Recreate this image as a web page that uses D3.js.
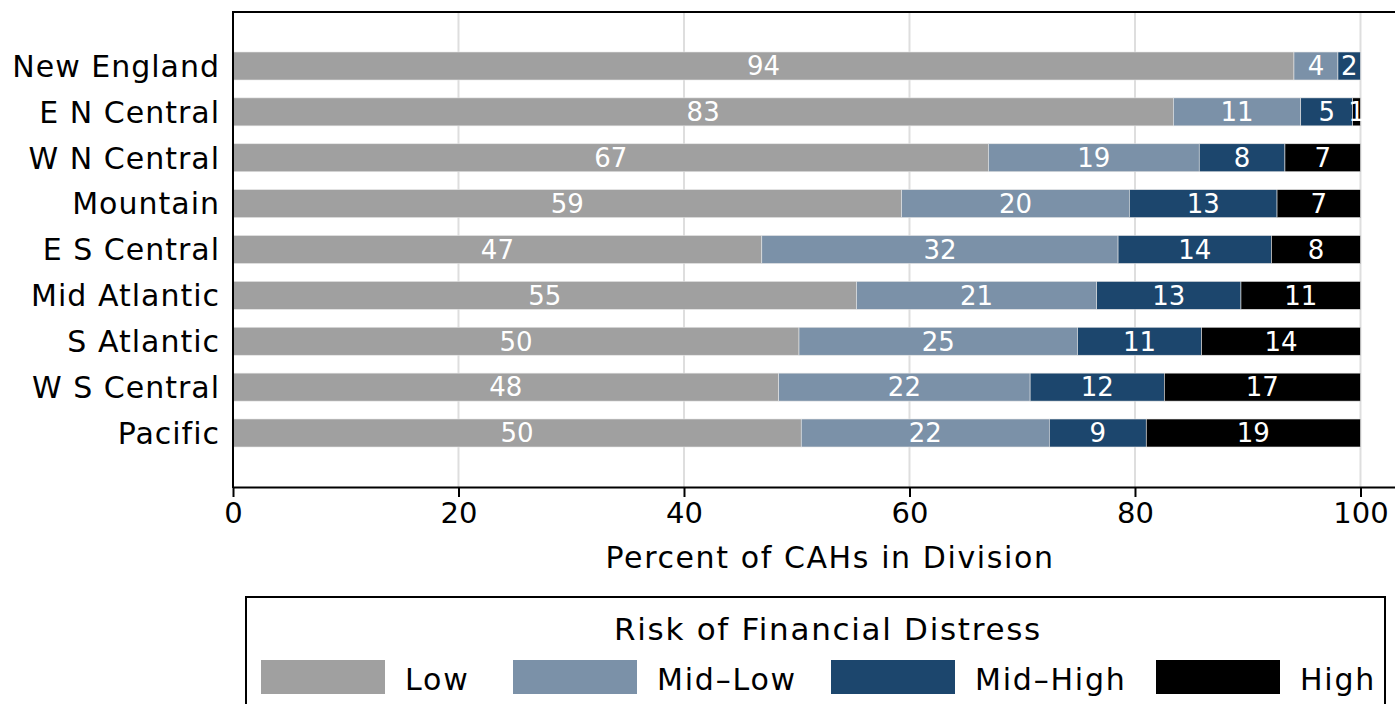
<!DOCTYPE html>
<html>
<head>
<meta charset="utf-8">
<script src="https://cdn.jsdelivr.net/npm/d3@7"></script>
<style>
  html, body { margin: 0; padding: 0; background: #fff; overflow: hidden; }
  svg { display: block; }
  text { font-family: "DejaVu Sans", sans-serif; }
</style>
</head>
<body>
<svg id="chart" width="1395" height="704"></svg>
<script>
const divisions = ["New England", "E N Central", "W N Central", "Mountain", "E S Central",
                   "Mid Atlantic", "S Atlantic", "W S Central", "Pacific"];
const riskLevels = ["Low", "Mid\u2013Low", "Mid\u2013High", "High"];
const lowValues     = [94.1, 83.4, 67.0, 59.3, 46.9, 55.3, 50.2, 48.4, 50.4];
const midLowValues  = [3.9, 11.3, 18.7, 20.2, 31.6, 21.3, 24.7, 22.3, 22.0];
const midHighValues = [2.0, 4.6, 7.6, 13.1, 13.6, 12.8, 11.0, 11.9, 8.6];
const highValues    = [0.0, 0.7, 6.7, 7.4, 7.9, 10.6, 14.1, 17.4, 19.0];
const xTicks = [0, 20, 40, 60, 80, 100];
const colors = ["#a0a0a0", "#7b91a8", "#1c466d", "#000000"];
const xTitle = "Percent of CAHs in Division";
const legendTitle = "Risk of Financial Distress";

const series = [lowValues, midLowValues, midHighValues, highValues];
const FONT = "'DejaVu Sans', sans-serif";

const svg = d3.select("#chart");
const x = d3.scaleLinear().domain([0, 105.9]).range([233, 1427]);
const y = d3.scaleBand().domain(divisions).range([12, 487]).paddingInner(0.39).paddingOuter(0.872);

// grid
svg.append("g").selectAll("line").data(xTicks.slice(1)).join("line")
  .attr("x1", d => x(d)).attr("x2", d => x(d))
  .attr("y1", 12).attr("y2", 487)
  .attr("stroke", "#dedede").attr("stroke-width", 2);

// stacked data
const rows = divisions.map((name, i) => {
  let acc = 0;
  return series.map((s, k) => {
    const v = s[i];
    const seg = { name, k, x0: acc, x1: acc + v, v };
    acc += v;
    return seg;
  });
}).flat();

svg.append("g").selectAll("rect").data(rows.filter(d => d.v > 0)).join("rect")
  .attr("x", d => x(d.x0))
  .attr("width", d => x(d.x1) - x(d.x0))
  .attr("y", d => y(d.name))
  .attr("height", y.bandwidth())
  .attr("fill", d => colors[d.k])
  .attr("stroke", "#e6e6e6").attr("stroke-width", 0.6);

svg.append("g").selectAll("text").data(rows.filter(d => d.v > 0)).join("text")
  .attr("x", d => x((d.x0 + d.x1) / 2))
  .attr("y", d => y(d.name) + y.bandwidth() / 2)
  .attr("dy", "0.36em")
  .attr("text-anchor", "middle")
  .attr("fill", "#fff")
  .attr("font-size", 26)
  .text(d => Math.round(d.v));

// y labels
svg.append("g").selectAll("text").data(divisions).join("text")
  .attr("x", 220)
  .attr("y", d => y(d) + y.bandwidth() / 2)
  .attr("dy", "0.36em")
  .attr("text-anchor", "end")
  .attr("font-size", 30)
  .attr("letter-spacing", 1)
  .attr("fill", "#000")
  .text(d => d);

// frame
svg.append("line").attr("x1", 233).attr("x2", 1395).attr("y1", 12).attr("y2", 12)
  .attr("stroke", "#000").attr("stroke-width", 2);
svg.append("line").attr("x1", 233).attr("x2", 233).attr("y1", 11).attr("y2", 488)
  .attr("stroke", "#000").attr("stroke-width", 2);

// x axis
const xAxis = d3.axisBottom(x).tickValues(xTicks).tickSize(10).tickPadding(5).tickSizeOuter(0);
const gx = svg.append("g").attr("transform", "translate(0,487)").call(xAxis);
gx.select(".domain").attr("stroke", "#000").attr("stroke-width", 2);
gx.selectAll(".tick line").attr("stroke", "#000").attr("stroke-width", 2);
gx.selectAll(".tick text").attr("font-size", 29).attr("fill", "#000")
  .attr("font-family", FONT);

svg.append("text").attr("x", 830).attr("y", 568).attr("text-anchor", "middle")
  .attr("font-size", 30).attr("letter-spacing", 1.6).attr("fill", "#000").text(xTitle);

// legend
svg.append("rect").attr("x", 246).attr("y", 597).attr("width", 1139).attr("height", 120)
  .attr("fill", "none").attr("stroke", "#000").attr("stroke-width", 2);
svg.append("text").attr("x", 828).attr("y", 640).attr("text-anchor", "middle")
  .attr("font-size", 31).attr("letter-spacing", 1.7).attr("fill", "#000").text(legendTitle);

const legendKeyX = [261, 513, 831, 1156];
const lg = svg.append("g").selectAll("g").data(riskLevels).join("g");
lg.append("rect")
  .attr("x", (d, i) => legendKeyX[i]).attr("y", 660)
  .attr("width", 124).attr("height", 34)
  .attr("fill", (d, i) => colors[i]);
lg.append("text")
  .attr("x", (d, i) => legendKeyX[i] + 144).attr("y", 690)
  .attr("font-size", 30).attr("letter-spacing", 1.8).attr("fill", "#000")
  .text(d => d);
</script>
</body>
</html>
